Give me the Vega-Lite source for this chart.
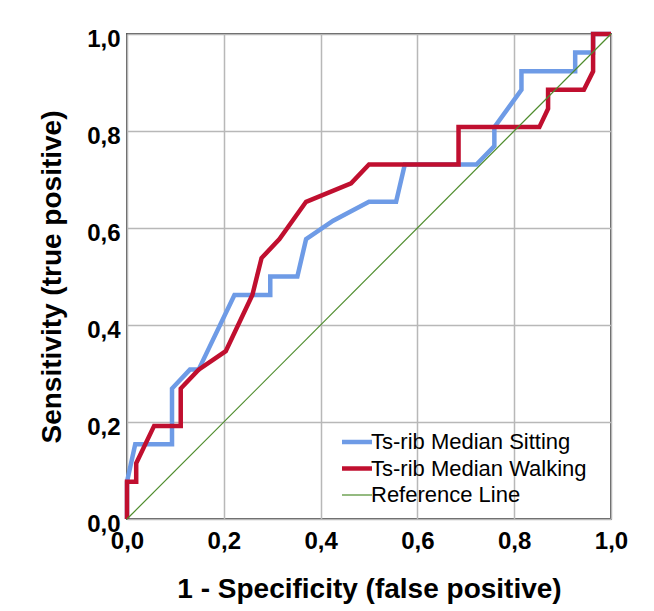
{
  "$schema": "https://vega.github.io/schema/vega-lite/v6.json",
  "width": 484,
  "height": 485,
  "autosize": "none",
  "padding": {"left": 127, "top": 34, "right": 43, "bottom": 92},
  "background": "white",
  "config": {
    "font": "Liberation Sans",
    "view": {"stroke": "#5a5a5a", "strokeWidth": 2},
    "axis": {
      "domain": false,
      "ticks": false,
      "grid": true,
      "gridColor": "#b8b8b8",
      "gridWidth": 1.5,
      "labelFont": "Liberation Sans",
      "labelFontWeight": "bold",
      "labelFontSize": 24,
      "labelColor": "#000000",
      "labelFlush": false,
      "labelOverlap": false,
      "titleFont": "Liberation Sans",
      "titleFontWeight": "bold",
      "titleFontSize": 28,
      "titleColor": "#000000"
    },
    "legend": {
      "labelFont": "Liberation Sans",
      "labelFontSize": 22,
      "labelColor": "#000000",
      "labelLimit": 0
    }
  },
  "data": {
    "values": [
      {"series": "Ts-rib Median Sitting", "order": 1, "fpr": 0, "tpr": 0},
      {"series": "Ts-rib Median Sitting", "order": 2, "fpr": 0, "tpr": 0.077},
      {"series": "Ts-rib Median Sitting", "order": 3, "fpr": 0.017, "tpr": 0.154},
      {"series": "Ts-rib Median Sitting", "order": 4, "fpr": 0.093, "tpr": 0.154},
      {"series": "Ts-rib Median Sitting", "order": 5, "fpr": 0.093, "tpr": 0.269},
      {"series": "Ts-rib Median Sitting", "order": 6, "fpr": 0.13, "tpr": 0.308},
      {"series": "Ts-rib Median Sitting", "order": 7, "fpr": 0.148, "tpr": 0.308},
      {"series": "Ts-rib Median Sitting", "order": 8, "fpr": 0.222, "tpr": 0.462},
      {"series": "Ts-rib Median Sitting", "order": 9, "fpr": 0.296, "tpr": 0.462},
      {"series": "Ts-rib Median Sitting", "order": 10, "fpr": 0.296, "tpr": 0.5},
      {"series": "Ts-rib Median Sitting", "order": 11, "fpr": 0.352, "tpr": 0.5},
      {"series": "Ts-rib Median Sitting", "order": 12, "fpr": 0.37, "tpr": 0.577},
      {"series": "Ts-rib Median Sitting", "order": 13, "fpr": 0.426, "tpr": 0.615},
      {"series": "Ts-rib Median Sitting", "order": 14, "fpr": 0.5, "tpr": 0.654},
      {"series": "Ts-rib Median Sitting", "order": 15, "fpr": 0.556, "tpr": 0.654},
      {"series": "Ts-rib Median Sitting", "order": 16, "fpr": 0.574, "tpr": 0.731},
      {"series": "Ts-rib Median Sitting", "order": 17, "fpr": 0.722, "tpr": 0.731},
      {"series": "Ts-rib Median Sitting", "order": 18, "fpr": 0.759, "tpr": 0.769},
      {"series": "Ts-rib Median Sitting", "order": 19, "fpr": 0.759, "tpr": 0.808},
      {"series": "Ts-rib Median Sitting", "order": 20, "fpr": 0.815, "tpr": 0.885},
      {"series": "Ts-rib Median Sitting", "order": 21, "fpr": 0.815, "tpr": 0.923},
      {"series": "Ts-rib Median Sitting", "order": 22, "fpr": 0.926, "tpr": 0.923},
      {"series": "Ts-rib Median Sitting", "order": 23, "fpr": 0.926, "tpr": 0.962},
      {"series": "Ts-rib Median Sitting", "order": 24, "fpr": 0.963, "tpr": 0.962},
      {"series": "Ts-rib Median Sitting", "order": 25, "fpr": 0.963, "tpr": 1},
      {"series": "Ts-rib Median Sitting", "order": 26, "fpr": 1, "tpr": 1},
      {"series": "Ts-rib Median Walking", "order": 1, "fpr": 0, "tpr": 0},
      {"series": "Ts-rib Median Walking", "order": 2, "fpr": 0, "tpr": 0.077},
      {"series": "Ts-rib Median Walking", "order": 3, "fpr": 0.019, "tpr": 0.077},
      {"series": "Ts-rib Median Walking", "order": 4, "fpr": 0.019, "tpr": 0.115},
      {"series": "Ts-rib Median Walking", "order": 5, "fpr": 0.056, "tpr": 0.192},
      {"series": "Ts-rib Median Walking", "order": 6, "fpr": 0.111, "tpr": 0.192},
      {"series": "Ts-rib Median Walking", "order": 7, "fpr": 0.111, "tpr": 0.269},
      {"series": "Ts-rib Median Walking", "order": 8, "fpr": 0.148, "tpr": 0.308},
      {"series": "Ts-rib Median Walking", "order": 9, "fpr": 0.204, "tpr": 0.346},
      {"series": "Ts-rib Median Walking", "order": 10, "fpr": 0.259, "tpr": 0.462},
      {"series": "Ts-rib Median Walking", "order": 11, "fpr": 0.278, "tpr": 0.538},
      {"series": "Ts-rib Median Walking", "order": 12, "fpr": 0.315, "tpr": 0.577},
      {"series": "Ts-rib Median Walking", "order": 13, "fpr": 0.37, "tpr": 0.654},
      {"series": "Ts-rib Median Walking", "order": 14, "fpr": 0.463, "tpr": 0.692},
      {"series": "Ts-rib Median Walking", "order": 15, "fpr": 0.5, "tpr": 0.731},
      {"series": "Ts-rib Median Walking", "order": 16, "fpr": 0.685, "tpr": 0.731},
      {"series": "Ts-rib Median Walking", "order": 17, "fpr": 0.685, "tpr": 0.808},
      {"series": "Ts-rib Median Walking", "order": 18, "fpr": 0.852, "tpr": 0.808},
      {"series": "Ts-rib Median Walking", "order": 19, "fpr": 0.87, "tpr": 0.846},
      {"series": "Ts-rib Median Walking", "order": 20, "fpr": 0.87, "tpr": 0.885},
      {"series": "Ts-rib Median Walking", "order": 21, "fpr": 0.944, "tpr": 0.885},
      {"series": "Ts-rib Median Walking", "order": 22, "fpr": 0.963, "tpr": 0.923},
      {"series": "Ts-rib Median Walking", "order": 23, "fpr": 0.963, "tpr": 1},
      {"series": "Ts-rib Median Walking", "order": 24, "fpr": 1, "tpr": 1},
      {"series": "Reference Line", "order": 1, "fpr": 0, "tpr": 0},
      {"series": "Reference Line", "order": 2, "fpr": 1, "tpr": 1}
    ]
  },
  "encoding": {
    "x": {
      "field": "fpr",
      "type": "quantitative",
      "scale": {"domain": [0, 1], "nice": false},
      "axis": {
        "title": "1 - Specificity (false positive)",
        "values": [0, 0.2, 0.4, 0.6, 0.8, 1],
        "labelExpr": "replace(format(datum.value, '.1f'), '.', ',')",
        "labelPadding": 10,
        "titlePadding": 22
      }
    },
    "y": {
      "field": "tpr",
      "type": "quantitative",
      "scale": {"domain": [0, 1], "nice": false},
      "axis": {
        "title": "Sensitivity (true positive)",
        "values": [0, 0.2, 0.4, 0.6, 0.8, 1],
        "labelExpr": "replace(format(datum.value, '.1f'), '.', ',')",
        "labelPadding": 7,
        "labelOffset": 5,
        "titlePadding": 20
      }
    },
    "order": {"field": "order", "type": "quantitative"},
    "color": {
      "field": "series",
      "type": "nominal",
      "scale": {
        "domain": ["Ts-rib Median Sitting", "Ts-rib Median Walking", "Reference Line"],
        "range": ["#6e9be6", "#c00f2f", "#4e8c2c"]
      },
      "legend": {
        "title": null,
        "orient": "none",
        "legendX": 219,
        "legendY": 397,
        "symbolType": "stroke",
        "symbolSize": 900,
        "labelOffset": 3,
        "rowPadding": 4.5,
        "encode": {
          "symbols": {
            "update": {
              "strokeWidth": {"signal": "datum.value === 'Reference Line' ? 1.2 : 4.5"}
            }
          }
        }
      }
    }
  },
  "layer": [
    {
      "transform": [{"filter": "datum.series === 'Ts-rib Median Sitting'"}],
      "mark": {"type": "line", "strokeWidth": 4.5, "strokeJoin": "miter", "clip": false}
    },
    {
      "transform": [{"filter": "datum.series === 'Ts-rib Median Walking'"}],
      "mark": {"type": "line", "strokeWidth": 4.5, "strokeJoin": "miter", "clip": false}
    },
    {
      "transform": [{"filter": "datum.series === 'Reference Line'"}],
      "mark": {"type": "line", "strokeWidth": 1.2, "clip": false}
    }
  ]
}
